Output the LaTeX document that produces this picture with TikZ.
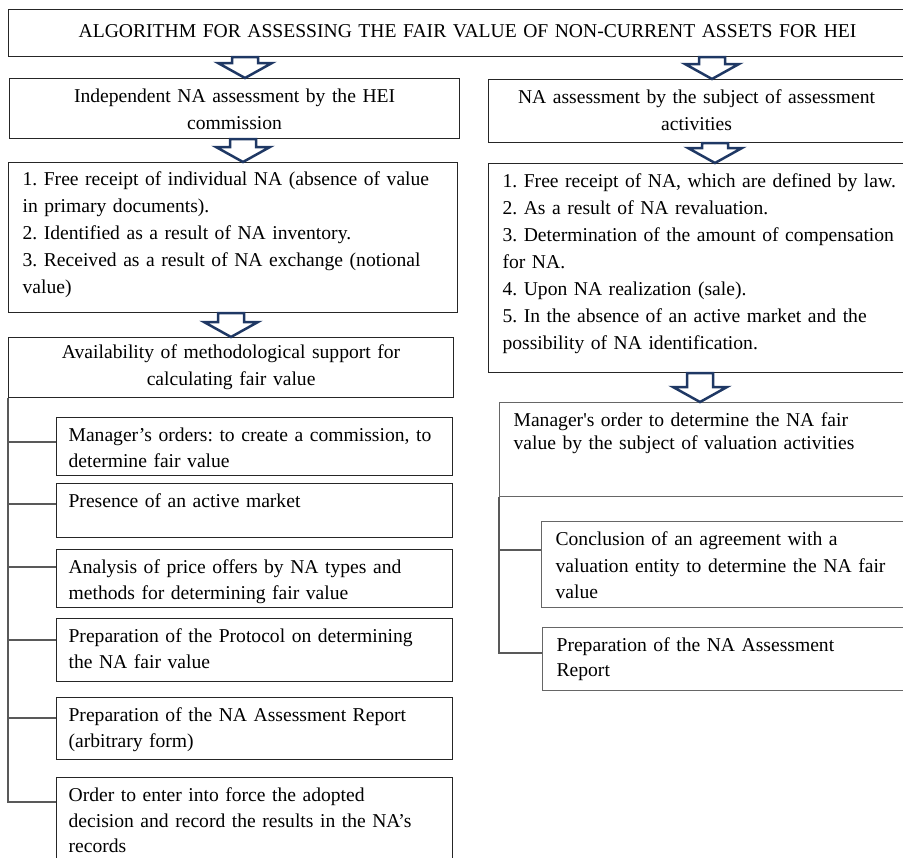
\documentclass[tikz,border=0pt]{standalone}
\usepackage{fontspec}
\setmainfont{Liberation Serif}
\usetikzlibrary{calc}
\definecolor{arrownavy}{RGB}{31,56,100}
\tikzset{
  box/.style={draw=black!85, line width=0.6pt, rectangle, anchor=north west,
    inner xsep=7pt, inner ysep=0pt, text height=12pt, align=left,
    font=\fontsize{9.8pt}{13.5pt}\selectfont},
  sub/.style={box, inner xsep=6pt, text width=186pt,
    font=\fontsize{9.8pt}{12.75pt}\selectfont},
  link/.style={draw=black!65, line width=0.6pt},
  hollow/.style={draw=arrownavy, line width=1.25pt, line join=miter},
}
% hollow block arrow pointing down from #1 to #2
\newcommand{\blockdown}[2]{%
  \draw[hollow] let \p1=#1, \p2=#2 in
    (\x1-6.5pt,\y1) -- (\x1+6.5pt,\y1) -- (\x1+6.5pt,\y2+7.5pt) -- (\x1+13.5pt,\y2+7.5pt)
    -- (\x1,\y2) -- (\x1-13.5pt,\y2+7.5pt) -- (\x1-6.5pt,\y2+7.5pt) -- cycle;}
\begin{document}
\frenchspacing
\begin{tikzpicture}[x=0.5pt,y=-0.5pt]
\path[use as bounding box, clip] (0,0) rectangle (903,857);

\node[box, inner xsep=0pt, text width=459pt, align=center, text height=13.75pt, text depth=9.75pt] (title) at (8,9)
  {ALGORITHM FOR ASSESSING THE FAIR VALUE OF NON-CURRENT ASSETS FOR HEI};

% left branch
\node[box, text width=211pt, align=center, text depth=18pt] (indep) at (9,78)
  {Independent NA assessment by the HEI\\commission};
\node[box, text width=210.5pt, text height=11.5pt, text depth=63.5pt] (cases) at (8,162)
  {1. Free receipt of individual NA (absence of value\\in primary documents).\\2. Identified as a result of NA inventory.\\3. Received as a result of NA exchange (notional\\value)};
\node[box, text width=208.5pt, align=center, text height=10.5pt, text depth=19.5pt] (method) at (8,337)
  {Availability of methodological support for\\calculating fair value};
\node[sub, text depth=17pt] (orders) at (56,417)
  {Manager’s orders: to create a commission, to\\determine fair value};
\node[sub, text depth=15pt] (market) at (56,483)
  {Presence of an active market};
\node[sub, text depth=17pt] (offers) at (56,549)
  {Analysis of price offers by NA types and\\methods for determining fair value};
\node[sub, text depth=19.5pt] (protocol) at (56,618)
  {Preparation of the Protocol on determining\\the NA fair value};
\node[sub, text depth=19pt] (report) at (56,697)
  {Preparation of the NA Assessment Report\\(arbitrary form)};
\node[sub, text depth=39.5pt] (enter) at (56,777)
  {Order to enter into force the adopted\\decision and record the results in the NA’s\\records};

% right branch
\node[box, text width=194pt, align=center, text depth=19.5pt] (subj) at (488,79)
  {NA assessment by the subject of assessment\\activities};
\node[box, text width=199.5pt, text depth=92.5pt] (grounds) at (488,163)
  {1. Free receipt of NA, which are defined by law.\\2. As a result of NA revaluation.\\3. Determination of the amount of compensation\\for NA.\\4. Upon NA realization (sale).\\5. In the absence of an active market and the\\possibility of NA identification.};
\node[box, draw=black!60, text width=194pt, text depth=35pt, font=\fontsize{9.8pt}{11.5pt}\selectfont] (order) at (499,402)
  {Manager\textquotesingle s order to determine the NA fair\\value by the subject of valuation activities};
\node[box, draw=black!60, text width=173pt, text depth=31pt, font=\fontsize{9.8pt}{13.25pt}\selectfont] (agree) at (541,521)
  {Conclusion of an agreement with a\\valuation entity to determine the NA fair\\value};
\node[box, draw=black!60, text width=172.5pt, text depth=19.5pt, font=\fontsize{9.8pt}{12.5pt}\selectfont] (valrep) at (542,627)
  {Preparation of the NA Assessment\\Report};

% block arrows
\blockdown{(245,0 |- title.south)}{(245,0 |- indep.north)}
\blockdown{(243,0 |- indep.south)}{(243,0 |- cases.north)}
\blockdown{(231,0 |- cases.south)}{(231,0 |- method.north)}
\blockdown{(712,0 |- title.south)}{(712,0 |- subj.north)}
\blockdown{(715,0 |- subj.south)}{(715,0 |- grounds.north)}
\blockdown{(700,0 |- grounds.south)}{(700,0 |- order.north)}

% brackets
\foreach \b/\d in {orders/25,market/21,offers/18,protocol/22,report/21,enter/25}
  \draw[link] (method.south west) |- ([yshift=-\d*0.5pt]\b.north west);
\foreach \b/\d in {agree/29,valrep/26}
  \draw[link] (order.south west) |- ([yshift=-\d*0.5pt]\b.north west);
\end{tikzpicture}
\end{document}
